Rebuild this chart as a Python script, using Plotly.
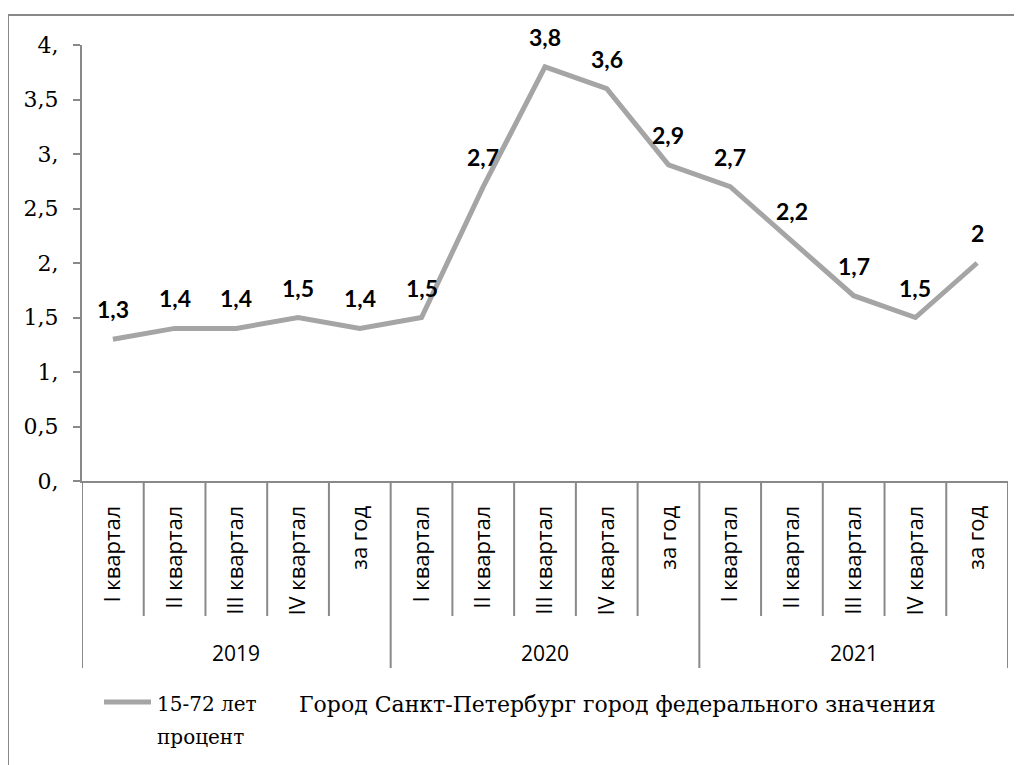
import plotly.graph_objects as go

# data
categories = ["I квартал", "II квартал", "III квартал", "IV квартал", "за год"] * 3
years = ["2019", "2020", "2021"]
values = [1.3, 1.4, 1.4, 1.5, 1.4, 1.5, 2.7, 3.8, 3.6, 2.9, 2.7, 2.2, 1.7, 1.5, 2.0]
y_ticks = [0, 0.5, 1, 1.5, 2, 2.5, 3, 3.5, 4]
y_tick_labels = ["0,", "0,5", "1,", "1,5", "2,", "2,5", "3,", "3,5", "4,"]
series_name = "15-72 лет"
unit_name = "процент"
region_name = "Город Санкт-Петербург город федерального значения"

# the page body has an 8px margin, so the figure starts at (8, 8)
OFF = 8
W, H = 1022 - OFF, 765 - OFF
# plot area in screen pixels
L, R, T, B = 82, 1008, 45, 481

AXIS = "#898989"
LINE = "#A5A5A5"
SERIF = "DejaVu Serif"
SANS = "Open Sans"


def fx(p):
    return (p - L) / (R - L)


def fy(p):
    return (B - p) / (B - T)


fig = go.Figure(go.Scatter(
    x=list(range(len(values))),
    y=values,
    mode="lines",
    line=dict(color=LINE, width=5),
    hoverinfo="skip",
    showlegend=False,
))

annotations = []
# data labels above points
for i, v in enumerate(values):
    annotations.append(dict(
        x=i, y=v, xref="x", yref="y",
        text=f"{v:g}".replace(".", ","),
        showarrow=False, yshift=30,
        font=dict(family="Lato", size=23, color="black", weight="bold"),
    ))

# year labels (second level of the category axis)
n = len(categories) // len(years)
for k, yr in enumerate(years):
    annotations.append(dict(
        x=k * n + (n - 1) / 2, y=fy(653), xref="x", yref="paper",
        text=yr, showarrow=False, yanchor="middle",
        font=dict(family=SANS, size=21, color="black"),
    ))

# legend drawn by hand
for txt, ypix in [(series_name, 704), (unit_name, 737)]:
    annotations.append(dict(
        x=fx(155), y=fy(ypix), xref="paper", yref="paper",
        text=txt, showarrow=False,
        xanchor="left", yanchor="middle",
        font=dict(family=SERIF, size=20, color="black"),
    ))
annotations.append(dict(
    x=fx(297), y=fy(704), xref="paper", yref="paper",
    text=region_name, showarrow=False,
    xanchor="left", yanchor="middle",
    font=dict(family=SERIF, size=22, color="black"),
))

shapes = []
# category separators
for k in range(len(categories) + 1):
    bottom = 668 if k % n == 0 else 616
    shapes.append(dict(
        type="line", xref="x", yref="paper",
        x0=k - 0.5, x1=k - 0.5, y0=0, y1=fy(bottom),
        line=dict(color=AXIS, width=2),
    ))
# legend sample
shapes.append(dict(
    type="line", xref="paper", yref="paper",
    x0=fx(104), x1=fx(151), y0=fy(702), y1=fy(702),
    line=dict(color=LINE, width=5),
))
# chart border
shapes.append(dict(
    type="rect", xref="paper", yref="paper",
    x0=fx(8), x1=fx(1060), y0=fy(15), y1=fy(800),
    line=dict(color=AXIS, width=2),
))

fig.update_layout(
    width=W, height=H,
    margin=dict(l=L - OFF, r=W + OFF - R, t=T - OFF, b=H + OFF - B, autoexpand=False),
    paper_bgcolor="white", plot_bgcolor="white",
    annotations=annotations,
    shapes=shapes,
    showlegend=False,
)

fig.update_xaxes(
    range=[-0.5, len(categories) - 0.5],
    tickmode="array", tickvals=list(range(len(categories))), ticktext=categories,
    tickangle=-90, ticks="", ticklabelstandoff=14,
    tickfont=dict(family=SANS, size=22, color="black"),
    showline=True, linecolor=AXIS, linewidth=2,
    showgrid=False, zeroline=False, automargin=False,
)
fig.update_yaxes(
    range=[0, 4],
    tickmode="array", tickvals=y_ticks, ticktext=y_tick_labels,
    ticks="outside", ticklen=7, tickwidth=2, tickcolor=AXIS,
    ticklabelstandoff=10,
    tickfont=dict(family=SERIF, size=22, color="black"),
    showline=True, linecolor=AXIS, linewidth=2,
    showgrid=False, zeroline=False, automargin=False,
)

fig.write_html("out.html")
